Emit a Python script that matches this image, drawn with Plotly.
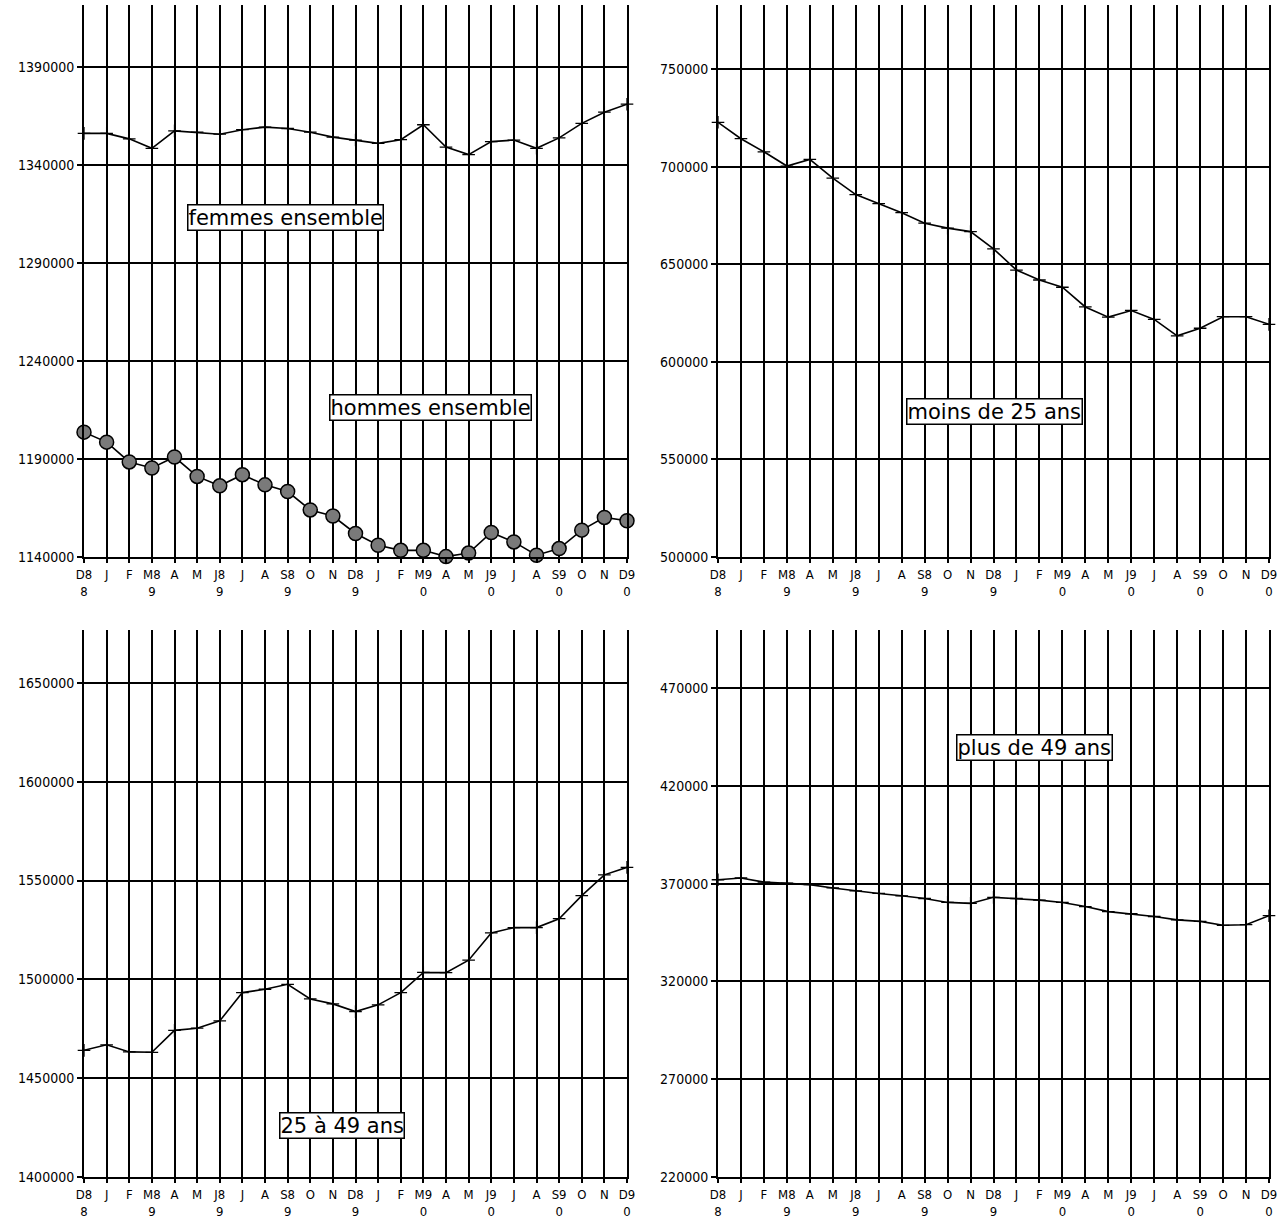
import plotly.graph_objects as go

months = ["D8<br>8", "J", "F", "M8<br>9", "A", "M", "J8<br>9", "J", "A", "S8<br>9", "O", "N",
          "D8<br>9", "J", "F", "M9<br>0", "A", "M", "J9<br>0", "J", "A", "S9<br>0", "O", "N", "D9<br>0"]
idx = list(range(len(months)))

femmes = [1356100, 1356100, 1353300, 1348500, 1357400, 1356700, 1355700, 1358000, 1359300,
          1358600, 1356700, 1354200, 1352700, 1351000, 1352900, 1360500, 1349100, 1345300,
          1351900, 1352700, 1348500, 1353800, 1361200, 1366900, 1371000]
hommes = [1203700, 1198600, 1188500, 1185400, 1191000, 1181100, 1176300, 1182000, 1176800,
          1173400, 1164000, 1160900, 1152000, 1146000, 1143400, 1143400, 1140200, 1142000,
          1152500, 1147700, 1140900, 1144300, 1153700, 1160200, 1158500]
moins25 = [722700, 714300, 707600, 700300, 703700, 694100, 685700, 681000, 676400, 671000,
           668500, 666700, 657900, 647000, 641900, 638200, 628100, 622900, 626300, 621700,
           613300, 617200, 623100, 623100, 619200]
de25a49 = [1464100, 1466900, 1463300, 1463100, 1474200, 1475300, 1479000, 1493300, 1495000,
           1497500, 1490100, 1487600, 1483700, 1487100, 1493300, 1503500, 1503400, 1509700,
           1523500, 1526200, 1526200, 1530700, 1542400, 1552900, 1556700]
plus49 = [372000, 372900, 370800, 370300, 369500, 367800, 366300, 365000, 363800, 362400,
          360400, 359900, 363000, 362400, 361600, 360400, 358300, 355700, 354600, 353200,
          351500, 350700, 348700, 349000, 353600]

ticks_tl = [1140000, 1190000, 1240000, 1290000, 1340000, 1390000]
ticks_tr = [500000, 550000, 600000, 650000, 700000, 750000]
ticks_bl = [1400000, 1450000, 1500000, 1550000, 1600000, 1650000]
ticks_br = [220000, 270000, 320000, 370000, 420000, 470000]

fig = go.Figure()

cross = dict(symbol="cross-thin-open", size=9, line=dict(width=1.3, color="black"))
line = dict(color="black", width=1.6)

fig.add_trace(go.Scatter(x=idx, y=femmes, mode="lines+markers", line=line, marker=cross,
                         xaxis="x", yaxis="y", cliponaxis=False))
fig.add_trace(go.Scatter(x=idx, y=hommes, mode="lines+markers", line=line,
                         marker=dict(symbol="circle", size=14, color="#7a7a7a",
                                     line=dict(width=1.5, color="black")),
                         xaxis="x", yaxis="y", cliponaxis=False))
fig.add_trace(go.Scatter(x=idx, y=moins25, mode="lines+markers", line=line, marker=cross,
                         xaxis="x2", yaxis="y2", cliponaxis=False))
fig.add_trace(go.Scatter(x=idx, y=de25a49, mode="lines+markers", line=line, marker=cross,
                         xaxis="x3", yaxis="y3", cliponaxis=False))
fig.add_trace(go.Scatter(x=idx, y=plus49, mode="lines+markers", line=line, marker=cross,
                         xaxis="x4", yaxis="y4", cliponaxis=False))

W, H = 1280, 1219
left_dom = [84 / W, 627 / W]
right_dom = [718 / W, 1269 / W]
top_dom = [1 - 557 / H, 1 - 5 / H]
bot_dom = [1 - 1177 / H, 1 - 630 / H]

tickfont_x = dict(family="DejaVu Sans Condensed, DejaVu Sans, Arial", size=13, color="black")
tickfont_y = dict(family="Liberation Sans Narrow, DejaVu Sans Condensed, Arial", size=14, color="black")


def xax(dom, anchor):
    return dict(domain=dom, anchor=anchor, range=[0, 24], tickmode="array", tickvals=idx,
                ticktext=months, showgrid=True, gridcolor="black", gridwidth=2,
                ticks="outside", ticklen=4, tickcolor="black", tickwidth=2,
                showline=True, linecolor="black", linewidth=2, zeroline=False,
                tickfont=tickfont_x, tickangle=0, automargin=False)


def yax(dom, anchor, rng, tv):
    return dict(domain=dom, anchor=anchor, range=rng, tickmode="array", tickvals=tv,
                ticktext=[str(v) for v in tv], showgrid=True, gridcolor="black", gridwidth=2,
                ticks="outside", ticklen=5, tickcolor="black", tickwidth=1.5,
                showline=True, linecolor="black", linewidth=2, mirror=True,
                zeroline=False, tickfont=tickfont_y, automargin=False)


fig.update_layout(
    width=W, height=H, margin=dict(l=0, r=0, t=0, b=0, autoexpand=False),
    paper_bgcolor="white", plot_bgcolor="white", showlegend=False,
    xaxis=xax(left_dom, "y"),
    yaxis=yax(top_dom, "x", [1140000, 1421600], ticks_tl),
    xaxis2=xax(right_dom, "y2"),
    yaxis2=yax(top_dom, "x2", [500000, 782800], ticks_tr),
    xaxis3=xax(left_dom, "y3"),
    yaxis3=yax(bot_dom, "x3", [1400000, 1676800], ticks_bl),
    xaxis4=xax(right_dom, "y4"),
    yaxis4=yax(bot_dom, "x4", [220000, 499700], ticks_br),
)

lab_font = dict(family="DejaVu Sans, Noto Sans", size=21, color="black")
labels = [("femmes ensemble", "x", "y", 8.9, 1313000),
          ("hommes ensemble", "x", "y", 15.3, 1216500),
          ("moins de 25 ans", "x2", "y2", 12.06, 574800),
          ("25 à 49 ans", "x3", "y3", 11.4, 1426300),
          ("plus de 49 ans", "x4", "y4", 13.8, 439800)]
for txt, xr, yr, xv, yv in labels:
    fig.add_annotation(text=txt, xref=xr, yref=yr, x=xv, y=yv, showarrow=False,
                       font=lab_font, bgcolor="white", bordercolor="black", borderwidth=1.5,
                       borderpad=0)

fig.write_html("out.html", config={"displayModeBar": False},
               post_script="document.body.style.margin='0px';document.body.style.overflow='hidden';")
